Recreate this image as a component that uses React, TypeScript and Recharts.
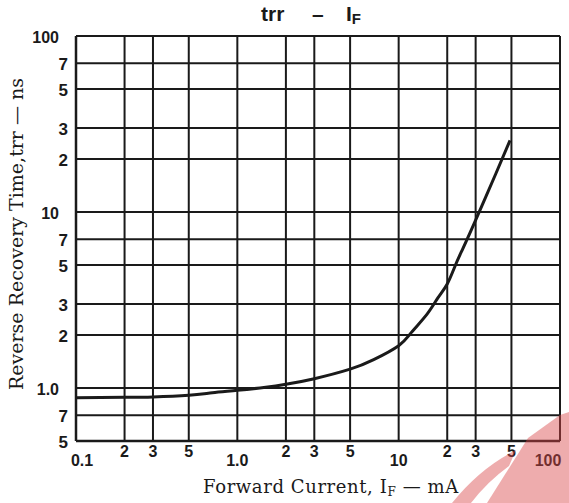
import { LineChart, Line, XAxis, YAxis, CartesianGrid } from 'recharts'

// forward current I_F (mA) and reverse recovery time trr (ns)
const currents = [0.1, 0.2, 0.3, 0.5, 0.7, 1, 1.5, 2, 3, 5, 7, 10, 12, 15, 17.5, 20, 22.5, 25, 30, 40, 49]
const trrValues = [0.88, 0.885, 0.89, 0.91, 0.94, 0.97, 1.01, 1.05, 1.13, 1.28, 1.45, 1.74, 2.07, 2.63, 3.25, 3.9, 5.0, 6.2, 9.0, 16.5, 25.5]

const xTicks = [0.1, 0.2, 0.3, 0.5, 1, 2, 3, 5, 10, 20, 30, 50, 100]
const yTicks = [0.5, 0.7, 1, 2, 3, 5, 7, 10, 20, 30, 50, 70, 100]

const X_DECADE_LABELS: Record<number, string> = { 0.1: '0.1', 1: '1.0', 10: '10', 100: '100' }
const Y_DECADE_LABELS: Record<number, string> = { 1: '1.0', 10: '10', 100: '100' }

const data = currents.map((c, i) => ({ current: c, trr: trrValues[i] }))

const INK = '#1a1a1a'
const TICK_FONT = '"Liberation Sans", Arial, sans-serif'
const SERIF = '"DejaVu Serif", "Liberation Serif", serif'

const mantissa = (v: number) => String(Math.round(v / Math.pow(10, Math.floor(Math.log10(v) + 1e-9))))

function XTick({ x, payload }: any) {
  const v = payload.value
  const decade = X_DECADE_LABELS[v]
  let dx = 0
  if (v === 0.1) dx = 6
  if (v === 100) dx = -12
  return (
    <text
      x={x + dx}
      y={decade ? 466 : 457}
      textAnchor="middle"
      fontFamily={TICK_FONT}
      fontWeight={700}
      fontSize={16}
      fill={INK}
    >
      {decade || mantissa(v)}
    </text>
  )
}

function YTick({ y, payload }: any) {
  const v = payload.value
  const decade = Y_DECADE_LABELS[v]
  return (
    <text
      x={decade ? 59 : 68}
      y={y + 7}
      textAnchor="end"
      fontFamily={TICK_FONT}
      fontWeight={700}
      fontSize={decade ? 16 : 17}
      fill={INK}
    >
      {decade || mantissa(v)}
    </text>
  )
}

export default function App() {
  return (
    <div style={{ position: 'absolute', left: 0, top: 0, width: 569, height: 503, background: '#fff' }}>
      <LineChart
        width={569}
        height={503}
        data={data}
        margin={{ top: 36, right: 9, bottom: 32, left: 16 }}
      >
        <CartesianGrid stroke={INK} strokeWidth={2} />
        <XAxis
          dataKey="current"
          type="number"
          scale="log"
          domain={[0.1, 100]}
          ticks={xTicks}
          allowDataOverflow
          height={30}
          tickLine={false}
          axisLine={{ stroke: INK, strokeWidth: 2.5 }}
          tick={<XTick />}
          interval={0}
        />
        <YAxis
          type="number"
          scale="log"
          domain={[0.5, 100]}
          ticks={yTicks}
          allowDataOverflow
          width={60}
          tickLine={false}
          axisLine={{ stroke: INK, strokeWidth: 2.5 }}
          tick={<YTick />}
          interval={0}
        />
        <Line
          dataKey="trr"
          type="natural"
          stroke={INK}
          strokeWidth={3}
          dot={false}
          isAnimationActive={false}
        />
      </LineChart>
      <svg
        width={569}
        height={503}
        style={{ position: 'absolute', left: 0, top: 0, pointerEvents: 'none' }}
      >
        {/* title */}
        <text x={261} y={21} fontFamily={TICK_FONT} fontWeight={700} fontSize={21} fill={INK}>trr</text>
        <text x={312} y={21} fontFamily={TICK_FONT} fontWeight={700} fontSize={21} fill={INK}>–</text>
        <text x={346} y={21} fontFamily={TICK_FONT} fontWeight={700} fontSize={21} fill={INK}>
          I<tspan fontSize={15} dy={3}>F</tspan>
        </text>
        <text
          transform="translate(23,234) rotate(-90)"
          textAnchor="middle"
          fontFamily={SERIF}
          fontSize={19}
          fill={INK}
        >
          Reverse Recovery Time,trr — ns
        </text>
        <text x={331} y={493} textAnchor="middle" fontFamily={SERIF} fontSize={18} letterSpacing={0.6} fill={INK}>
          Forward Current, I<tspan fontSize={12} dy={3}>F</tspan>
          <tspan dy={-3}> — mA</tspan>
        </text>
        {/* faint watermark in the lower right corner */}
        <path d="M487 503 L528 438 L560 415 L569 412 L569 503 Z" fill="#d9464a" opacity={0.45} />
        <path d="M452 503 Q480 468 516 450 L509 466 Q487 482 471 503 Z" fill="#d9464a" opacity={0.45} />
      </svg>
    </div>
  )
}
